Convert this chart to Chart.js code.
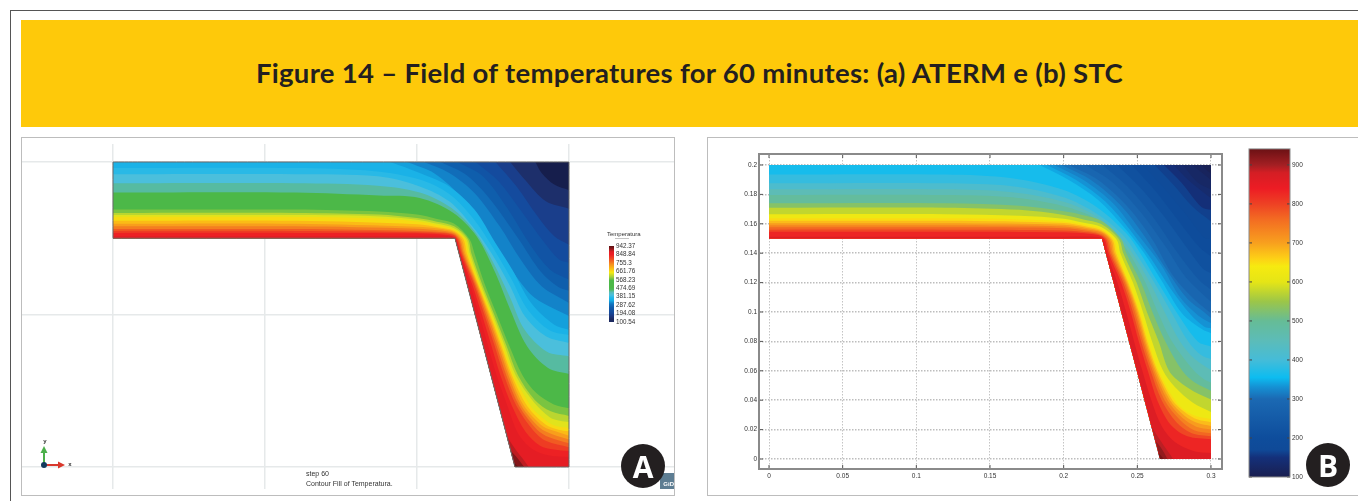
<!DOCTYPE html>
<html><head><meta charset="utf-8">
<script src="https://cdn.jsdelivr.net/npm/chart.js@4"></script>
<style>
html,body{margin:0;padding:0;background:#fff;width:1358px;height:501px;overflow:hidden;font-family:"Liberation Sans",sans-serif}
.abs{position:absolute}
canvas{position:absolute;display:block}
.soft{filter:blur(.6px)}
.softer{filter:blur(.6px)}
#outer{left:10px;top:10px;width:1500px;height:700px;border:1.5px solid #555}
#banner{left:21px;top:20px;width:1337px;height:107px;background:#fec90a}
#title{left:21px;top:20px;width:1337px;height:107px;text-align:center;font:700 27.5px/106px Lato,sans-serif;letter-spacing:.3px;color:#231f20;white-space:nowrap}
#pa{left:21px;top:137px;width:652px;height:357px;border:1.5px solid #bdbdbd}
#pb{left:707px;top:137px;width:800px;height:357px;border:1.5px solid #bdbdbd}
.badge{width:44px;height:44px;border-radius:50%;background:#231f20;color:#fff;font:700 30px/45px "Open Sans",sans-serif;text-align:center}
.small{font:7px/9px "Liberation Sans",sans-serif;color:#333;white-space:nowrap}
#gid{left:660px;top:473px;width:14px;height:16px;background:#5d7d92;color:#fff;font:700 6px/22px "Liberation Sans",sans-serif;text-align:right}
</style></head><body>
<div class="abs" id="outer"></div>
<div class="abs" id="banner"></div>
<div class="abs" id="title">Figure 14 – Field of temperatures for 60 minutes: (a) ATERM e (b) STC</div>
<div class="abs" id="pa"></div>
<div class="abs" id="pb"></div>
<canvas id="chartA" class="soft" style="left:22px;top:144px" width="652" height="345"></canvas>
<canvas id="legendA" class="soft" style="left:605px;top:240px" width="50" height="88"></canvas>
<canvas id="chartB" class="softer" style="left:735px;top:148px" width="495" height="336"></canvas>
<canvas id="barB" class="soft" style="left:1245px;top:143px" width="75" height="342"></canvas>
<div class="abs small soft" style="left:607px;top:230px;font-size:6px">Temperatura</div>
<div class="abs soft" style="left:615px;top:238px;width:14px;height:1px;background:#c4c4c4"></div>
<div class="abs small soft" style="left:306px;top:469px">step 60</div>
<div class="abs small soft" style="left:306px;top:479px">Contour Fill of Temperatura.</div>
<svg class="abs soft" style="left:30px;top:434px" width="50" height="40">
<line x1="14" y1="31" x2="14" y2="17" stroke="#4bb04a" stroke-width="2"/><path d="M14 12 L10.5 19 L17.5 19Z" fill="#4bb04a"/>
<line x1="14" y1="31" x2="29" y2="31" stroke="#d9382c" stroke-width="2"/><path d="M35 31 L28 27.5 L28 34.5Z" fill="#d9382c"/>
<circle cx="14" cy="31" r="3" fill="#123a5c"/>
<text x="15" y="9" font-family="Liberation Sans" font-size="6" font-weight="700" text-anchor="middle" fill="#333">y</text>
<text x="40" y="32" font-family="Liberation Sans" font-size="6" font-weight="700" text-anchor="middle" fill="#333">x</text>
</svg>
<div class="abs soft" id="gid">GiD</div>
<div class="abs badge" style="left:621px;top:444px">A</div>
<div class="abs badge" style="left:1306px;top:443px">B</div>
<script>
// Domain outlines (metres)
const domainAX=[0,.3,.3,.2645,.225,0], domainAY=[.2,.2,0,0,.15,.15];
const domainBX=[0,.3,.3,.2655,.226,0], domainBY=[.2,.2,0,0,.15,.15];

// Panel A isotherm levels and curves
const levelsA=[125,160,200,225,250,275,300,320,340,365,385,415,460,560,600,625,650,680,710,740,770,800,830,860,880,905,930];
const xA=[
[.2779,.282,.2903,.3],
[.2613,.271,.2848,.3],
[.2516,.2654,.2793,.2903,.3],
[.2385,.2535,.2695,.2835,.2935,.3],
[.2267,.2433,.26,.2751,.2876,.3],
[.2155,.2325,.249,.2665,.2815,.293,.3],
[.2046,.2212,.2378,.2544,.2682,.282,.3],
[.1935,.2115,.2295,.246,.26,.2745,.2865,.3],
[.1825,.2018,.2212,.2378,.2516,.2627,.2751,.2903,.3],
[0,.12,.172,.2018,.2212,.237,.2502,.262,.273,.2875,.3],
[0,.12,.1742,.2018,.2212,.2364,.2489,.2613,.271,.2848,.3],
[0,.12,.174,.2018,.2225,.238,.2502,.2613,.2705,.2855,.3],
[0,.12,.175,.2018,.224,.2392,.2516,.2613,.2724,.2862,.3],
[0,.12,.175,.2,.2125,.2245,.2345,.2378,.2445,.2525,.2605,.2695,.2785,.29,.3],
[0,.12,.175,.2,.213,.2245,.2335,.2358,.2428,.2508,.2587,.2665,.2775,.288,.3],
[0,.12,.172,.2,.2135,.2245,.2325,.2348,.2418,.2498,.2575,.265,.2765,.2875,.294,.3],
[0,.12,.17,.2,.214,.2245,.2315,.2338,.2408,.2488,.2563,.2635,.2748,.2789,.2895,.3],
[0,.12,.2,.2145,.2245,.2305,.2328,.2402,.2481,.2554,.2625,.2725,.285,.293,.3],
[0,.12,.2,.215,.2245,.2295,.2318,.2397,.2473,.2545,.2614,.2705,.283,.291,.3],
[0,.12,.2,.216,.2245,.2285,.2309,.2391,.2465,.2535,.2602,.2688,.281,.289,.3],
[0,.12,.2,.217,.2245,.2278,.2301,.2383,.2454,.2522,.2588,.2672,.279,.287,.3],
[0,.12,.2,.218,.2245,.227,.2294,.2375,.2443,.2509,.2573,.2655,.2765,.285,.3],
[0,.12,.2,.22,.2248,.2262,.2287,.2362,.2427,.2488,.2549,.2625,.2715,.281,.29,.3],
[0,.12,.2,.222,.2258,.2282,.2349,.2409,.2466,.2524,.2595,.2665,.2755,.287,.3],
[.2592,.2645,.2695,.2735],
[.2618,.2655,.2705],
[.2637,.2665]
];
const yA=[
[.2,.1928,.1852,.1815],
[.2,.1884,.1742,.1694],
[.2,.1841,.1644,.1513,.1458],
[.2,.1875,.1665,.1475,.136,.134],
[.2,.1906,.1688,.1447,.1294,.1229],
[.2,.1915,.1745,.15,.128,.118,.1155],
[.2,.1928,.1797,.1578,.136,.1185,.1076],
[.2,.1925,.1765,.1525,.1325,.1135,.1055,.099],
[.2,.1928,.184,.1688,.1469,.1294,.1076,.0933,.09],
[.196,.196,.194,.1885,.179,.163,.1435,.1235,.103,.0895,.0865],
[.192,.192,.1906,.184,.1742,.1578,.1403,.1185,.0988,.0857,.0813],
[.186,.186,.1845,.18,.17,.1545,.134,.111,.0905,.0755,.0726],
[.18,.18,.178,.1764,.1666,.1513,.1272,.1032,.0791,.0649,.061],
[.1688,.1688,.1675,.1655,.1628,.1595,.1495,.14,.12,.1,.08,.06,.0485,.041,.0385],
[.1666,.1666,.1655,.1632,.1608,.1578,.1495,.14,.12,.1,.08,.06,.044,.0365,.0335],
[.1652,.1652,.1645,.1622,.1595,.1566,.1495,.14,.12,.1,.08,.06,.043,.0325,.0303,.0295],
[.164,.164,.1632,.161,.1585,.1556,.1495,.14,.12,.1,.08,.06,.04,.0354,.0275,.0256],
[.1615,.1615,.1592,.157,.1548,.1495,.14,.12,.1,.08,.06,.04,.0275,.0245,.0235],
[.1595,.1595,.1575,.1562,.154,.1492,.14,.12,.1,.08,.06,.04,.0265,.0235,.0205],
[.1578,.1578,.1562,.155,.1532,.149,.14,.12,.1,.08,.06,.04,.0255,.0215,.018],
[.156,.156,.1548,.154,.1525,.1488,.14,.12,.1,.08,.06,.04,.0245,.0195,.0155],
[.1548,.1548,.154,.1532,.1518,.1488,.14,.12,.1,.08,.06,.04,.024,.017,.013],
[.1535,.1535,.1532,.1522,.1508,.149,.14,.12,.1,.08,.06,.04,.023,.014,.0115,.0105],
[.1515,.1515,.1515,.1512,.149,.14,.12,.1,.08,.06,.04,.022,.012,.0075,.0065],
[.02,.012,.0055,0],
[.0105,.0065,0],
[.003,0]
];
const paletteTA=[100,130,170,200,260,300,340,370,400,430,460,480,560,600,650,690,740,800,850,878,895,920,942];
const paletteCA=['#141c48','#1d2a60','#1c3a84','#15479a','#0f5cab','#1275bf','#14aee6','#22b8e8','#4bbfdc','#58bcb8','#4fb85a','#4cb848','#4db848','#a6cf3a','#f5e912','#fbc015','#f68f1f','#ef4a23','#ed1c24','#e21d24','#b81c20','#7d1518','#5a1012'];

// Panel B isotherm levels and curves
const levelsB=[110,120,130,140,155,170,185,200,225,250,275,300,312,325,337,350,375,400,435,470,510,550,600,640,665,690,720,750,780,810,850,880,900,925];
const xB=[
[.2935,.3],
[.2874,.3],
[.281,.2905,.3],
[.2746,.2846,.3],
[.268,.28,.2935,.3],
[.2618,.2746,.2874,.3],
[.2535,.268,.2825,.2955,.3],
[.2462,.2618,.2775,.2917,.3],
[.2362,.2525,.269,.2845,.2945,.3],
[.2263,.2433,.2604,.2775,.2917,.3],
[.2148,.2335,.2518,.2688,.283,.3],
[.2035,.2234,.2433,.2604,.2746,.2889,.3],
[.1985,.2185,.2385,.2555,.2705,.284,.2952,.3],
[.1935,.2135,.2335,.2505,.2665,.279,.2915,.3],
[.1885,.2085,.2285,.2455,.2596,.2725,.286,.2955,.3],
[.1836,.2035,.2234,.2405,.2547,.2661,.2803,.2946,.3],
[0,.12,.165,.2,.223,.2425,.252,.264,.2765,.291,.3],
[0,.12,.165,.2,.223,.24,.249,.2615,.273,.2845,.2935,.3],
[0,.12,.165,.2,.2225,.238,.2467,.2585,.2685,.279,.289,.3],
[0,.12,.165,.2,.222,.2365,.2445,.2555,.2638,.2735,.2885,.295,.3],
[0,.12,.17,.2,.2125,.2255,.239,.2425,.2525,.2602,.269,.2805,.289,.3],
[0,.12,.17,.2,.2135,.2255,.2375,.2405,.2495,.2565,.2645,.2715,.2805,.291,.3],
[0,.12,.17,.2,.2145,.2255,.236,.2385,.247,.2538,.26,.2675,.2755,.2875,.3],
[0,.12,.17,.2,.2155,.2255,.2342,.2365,.2444,.2518,.2575,.2645,.2769,.2878,.3],
[0,.12,.2,.216,.2255,.2332,.2355,.2438,.251,.2567,.2636,.2738,.282,.291,.3],
[0,.12,.2,.2165,.2255,.2322,.2345,.243,.2502,.2558,.2626,.2722,.282,.291,.3],
[0,.12,.2,.217,.2255,.2312,.2335,.2423,.2493,.2549,.2615,.2705,.2805,.29,.3],
[0,.12,.2,.2175,.2255,.2302,.2325,.2415,.2483,.2539,.2604,.2685,.279,.2885,.3],
[0,.12,.2,.218,.2255,.2292,.2315,.2404,.247,.2526,.259,.2665,.2765,.287,.3],
[0,.12,.2,.2185,.2255,.2282,.2305,.239,.2455,.251,.2571,.2635,.2725,.284,.3],
[0,.12,.2,.2235,.2268,.2293,.2365,.2424,.2478,.2534,.2595,.2665,.2755,.288,.3],
[.2597,.266,.2743],
[.2625,.2665,.2705],
[.2644,.268]
];
const yB=[
[.2,.194],
[.2,.1898],
[.2,.1885,.1835],
[.2,.1898,.1773],
[.2,.188,.1715,.1695],
[.2,.1864,.1717,.1615],
[.2,.1845,.167,.1505,.1495],
[.2,.183,.1626,.1445,.1377],
[.2,.184,.164,.1425,.1295,.1265],
[.2,.1853,.1649,.14,.1219,.1151],
[.2,.188,.1685,.145,.1235,.107],
[.2,.1898,.1717,.149,.1241,.1083,.0992],
[.2,.1898,.1728,.1507,.1278,.109,.1,.096],
[.2,.1898,.174,.1525,.1315,.11,.0975,.0925],
[.2,.1898,.175,.1553,.1358,.116,.0985,.09,.089],
[.2,.1898,.1762,.1581,.14,.1219,.0992,.0879,.0856],
[.1935,.1935,.191,.183,.171,.1535,.14,.12,.1,.08,.0765],
[.1875,.1875,.1855,.178,.1665,.1525,.14,.12,.1,.08,.0705,.068],
[.1835,.1835,.1815,.175,.165,.1515,.14,.12,.1,.08,.068,.0605],
[.1796,.1796,.178,.172,.1635,.1505,.14,.12,.1,.08,.06,.0545,.052],
[.174,.174,.1722,.1685,.166,.162,.1495,.14,.12,.1,.08,.06,.052,.0465],
[.171,.171,.1695,.166,.163,.1598,.1495,.14,.12,.1,.08,.06,.051,.0445,.0405],
[.1665,.1665,.1655,.1635,.1605,.1578,.1492,.14,.12,.1,.08,.06,.049,.0385,.032],
[.1637,.1637,.163,.1615,.159,.1565,.1492,.14,.12,.1,.08,.06,.0381,.0299,.0272],
[.162,.162,.1605,.158,.1556,.1492,.14,.12,.1,.08,.06,.04,.032,.0268,.025],
[.1603,.1603,.1593,.157,.1548,.1492,.14,.12,.1,.08,.06,.04,.0295,.0245,.0225],
[.159,.159,.1582,.156,.154,.1492,.14,.12,.1,.08,.06,.04,.028,.022,.02],
[.1576,.1576,.157,.155,.153,.149,.14,.12,.1,.08,.06,.04,.0265,.0195,.0175],
[.156,.156,.1555,.154,.1522,.149,.14,.12,.1,.08,.06,.04,.025,.0175,.0155],
[.1546,.1546,.1542,.153,.1515,.1488,.14,.12,.1,.08,.06,.04,.0235,.0155,.0135],
[.1512,.1512,.1512,.151,.1492,.14,.12,.1,.08,.06,.04,.0225,.0115,.0055,.004],
[.022,.012,0],
[.012,.007,0],
[.004,0]
];
const paletteTB=[100,150,170,200,300,330,355,400,450,500,550,600,640,660,700,760,800,840,880,900,941];
const paletteCB=['#1a1f50','#14307a','#0f4a98','#0e4d9c','#1b69b3','#1590d3','#0dbcf0','#45bcd8','#5cbcb8','#66bc96','#9cc648','#e5e516','#f6ea10','#fdd016','#f8a01e','#f36c22','#ee4124','#ed1c24','#d41e24','#a31f23','#6b1114'];

// Axis ticks
const gridAX=[0,.1,.2,.3], gridAY=[0,.1,.2];
const ticksBX=[0,.05,.1,.15,.2,.25,.3];
const ticksBY=[0,.02,.04,.06,.08,.1,.12,.14,.16,.18,.2];
const legendATicks=[942.37,848.84,755.3,661.76,568.23,474.69,381.15,287.62,194.08,100.54];
const barBTicks=[100,200,300,400,500,600,700,800,900];
const barBRange=[100,941];

function rgb(h){return [1,3,5].map(i=>parseInt(h.substr(i,2),16));}
function colorAt(t,T,C){
  if(t<=T[0])return C[0];
  for(let i=1;i<T.length;i++){ if(t<=T[i]){
    const f=(t-T[i-1])/(T[i]-T[i-1]),a=rgb(C[i-1]),b=rgb(C[i]);
    return 'rgb('+a.map((v,k)=>Math.round(v+(b[k]-v)*f)).join(',')+')';
  }}
  return C[C.length-1];
}
function sharp(arr,x,y){arr.push({x,y},{x,y});}
function fieldDatasets(levels,xs,ys,dx,dy,T,C,outline){
  const out=[];
  const base=[];dx.forEach((x,i)=>sharp(base,x,dy[i]));
  out.push({data:base,backgroundColor:colorAt(105,T,C),fill:'shape',tension:.001});
  levels.forEach((lv,i)=>{
    const X=xs[i],Y=ys[i],n=X.length,pts=[];
    if(Y[0]===dy[0]) sharp(pts,dx[0],dy[0]);
    sharp(pts,X[0],Y[0]);
    for(let k=1;k<n-1;k++)pts.push({x:X[k],y:Y[k]});
    sharp(pts,X[n-1],Y[n-1]);
    if(X[n-1]===dx[1]){ for(let k=2;k<dx.length;k++)sharp(pts,dx[k],dy[k]); }
    else sharp(pts,dx[3],dy[3]);
    const nxt=i<levels.length-1?levels[i+1]:lv+15;
    out.push({data:pts,backgroundColor:colorAt((lv+nxt)/2,T,C),fill:'shape',tension:.32});
  });
  if(outline){
    const o=[];dx.forEach((x,i)=>sharp(o,x,dy[i]));sharp(o,dx[0],dy[0]);
    out.push({data:o,fill:false,tension:.001,borderColor:'#6a6a6a',borderWidth:1});
  }
  out.forEach(d=>{d.showLine=true;d.pointRadius=0;if(d.borderWidth===undefined)d.borderWidth=0;});
  return out.reverse();
}
const tickSet=a=>axis=>{axis.ticks=a.map(value=>({value}));};
const framePlugin={id:'frameTicks',afterDraw(c,args,o){
  const {ctx,chartArea:a,scales:s}=c;ctx.save();
  ctx.strokeStyle=o.tick||'#444';ctx.lineWidth=1;ctx.beginPath();
  if(s.x&&s.x.options.display)s.x.ticks.forEach(t=>{const p=s.x.getPixelForValue(t.value);ctx.moveTo(p,a.top);ctx.lineTo(p,a.top+o.len);ctx.moveTo(p,a.bottom);ctx.lineTo(p,a.bottom-o.len);});
  s.y.ticks.forEach(t=>{const p=s.y.getPixelForValue(t.value);ctx.moveTo(a.left,p);ctx.lineTo(a.left+o.len,p);ctx.moveTo(a.right,p);ctx.lineTo(a.right-o.len,p);});
  ctx.stroke();
  ctx.strokeStyle=o.color||'#888';ctx.lineWidth=o.width||1.5;ctx.strokeRect(a.left,a.top,a.right-a.left,a.bottom-a.top);
  ctx.restore();
}};
const tickFont={family:'Liberation Sans',size:6.5};

new Chart(document.getElementById('chartA'),{type:'scatter',
 data:{datasets:fieldDatasets(levelsA,xA,yA,domainAX,domainAY,paletteTA,paletteCA,true)},
 options:{responsive:false,animation:false,events:[],layout:{padding:0},
  plugins:{legend:{display:false},tooltip:{enabled:false}},
  scales:{
   x:{type:'linear',min:-.05987,max:.36908,afterBuildTicks:tickSet(gridAX),afterFit:s=>{s.height=0;},
      ticks:{display:false},border:{display:false},grid:{color:'#e6e9ea',lineWidth:1.5,drawTicks:false}},
   y:{type:'linear',min:-.014426,max:.2118,afterBuildTicks:tickSet(gridAY),afterFit:s=>{s.width=0;},
      ticks:{display:false},border:{display:false},grid:{color:'#e6e9ea',lineWidth:1.5,drawTicks:false}}
  }}});

new Chart(document.getElementById('chartB'),{type:'scatter',
 data:{datasets:fieldDatasets(levelsB,xB,yB,domainBX,domainBY,paletteTB,paletteCB,false)},
 plugins:[framePlugin],
 options:{responsive:false,animation:false,events:[],layout:{padding:{left:0,top:6,right:8,bottom:0}},
  plugins:{legend:{display:false},tooltip:{enabled:false},frameTicks:{len:4,color:'#8a8a8a',width:2,tick:'#555'}},
  scales:{
   x:{type:'linear',min:-.00679,max:.30747,afterBuildTicks:tickSet(ticksBX),afterFit:s=>{s.height=15;},
      ticks:{autoSkip:false,maxRotation:0,padding:3,font:tickFont,color:'#333',callback:v=>String(v)},
      border:{display:false,dash:[1.5,1.5]},grid:{color:'#c4c4c4',lineWidth:1,drawTicks:false}},
   y:{type:'linear',min:-.0068,max:.20748,afterBuildTicks:tickSet(ticksBY),afterFit:s=>{s.width=24;},
      ticks:{autoSkip:false,padding:2,font:tickFont,color:'#333',callback:v=>String(v)},
      border:{display:false,dash:[1.5,1.5]},grid:{color:'#bdbdbd',lineWidth:1.5,drawTicks:false}}
  }}});

function gradientBar(ctx,lo,hi,T,C){
  const c=ctx.chart,a=c.chartArea;
  if(!a)return C[0];
  const g=c.ctx.createLinearGradient(0,a.bottom,0,a.top);
  T.forEach((t,i)=>{const f=(t-lo)/(hi-lo);if(f>=0&&f<=1)g.addColorStop(f,C[i]);});
  return g;
}
new Chart(document.getElementById('barB'),{type:'bar',
 data:{labels:['Temperatura'],datasets:[{data:[barBRange],barPercentage:1,categoryPercentage:1,borderWidth:0,
   backgroundColor:ctx=>gradientBar(ctx,barBRange[0],barBRange[1],paletteTB,paletteCB)}]},
 plugins:[framePlugin],
 options:{responsive:false,animation:false,events:[],layout:{padding:{left:4,top:4,right:0,bottom:8}},
  plugins:{legend:{display:false},tooltip:{enabled:false},frameTicks:{len:3,color:'#8a8a8a',width:1,tick:'#444'}},
  scales:{x:{display:false},
   y:{position:'right',min:barBRange[0],max:barBRange[1],afterBuildTicks:tickSet(barBTicks),afterFit:s=>{s.width=30;},
      ticks:{autoSkip:false,padding:2,font:tickFont,color:'#333',callback:v=>String(v)},
      border:{display:false},grid:{display:false,drawTicks:false}}}}});

const legRange=[legendATicks[legendATicks.length-1],legendATicks[0]];
new Chart(document.getElementById('legendA'),{type:'bar',
 data:{labels:['Temperatura'],datasets:[{data:[legRange],barPercentage:1,categoryPercentage:1,borderWidth:0,
   backgroundColor:ctx=>gradientBar(ctx,legRange[0],legRange[1],paletteTA,paletteCA)}]},
 options:{responsive:false,animation:false,events:[],layout:{padding:{left:4,top:6,right:0,bottom:6}},
  plugins:{legend:{display:false},tooltip:{enabled:false}},
  scales:{x:{display:false},
   y:{position:'right',min:legRange[0],max:legRange[1],afterBuildTicks:tickSet(legendATicks),afterFit:s=>{s.width=41;},
      ticks:{autoSkip:false,padding:2,font:{family:'Liberation Sans',size:6.3},color:'#333',callback:v=>String(v)},
      border:{display:false},grid:{display:false,drawTicks:false}}}}});
</script>
</body></html>
